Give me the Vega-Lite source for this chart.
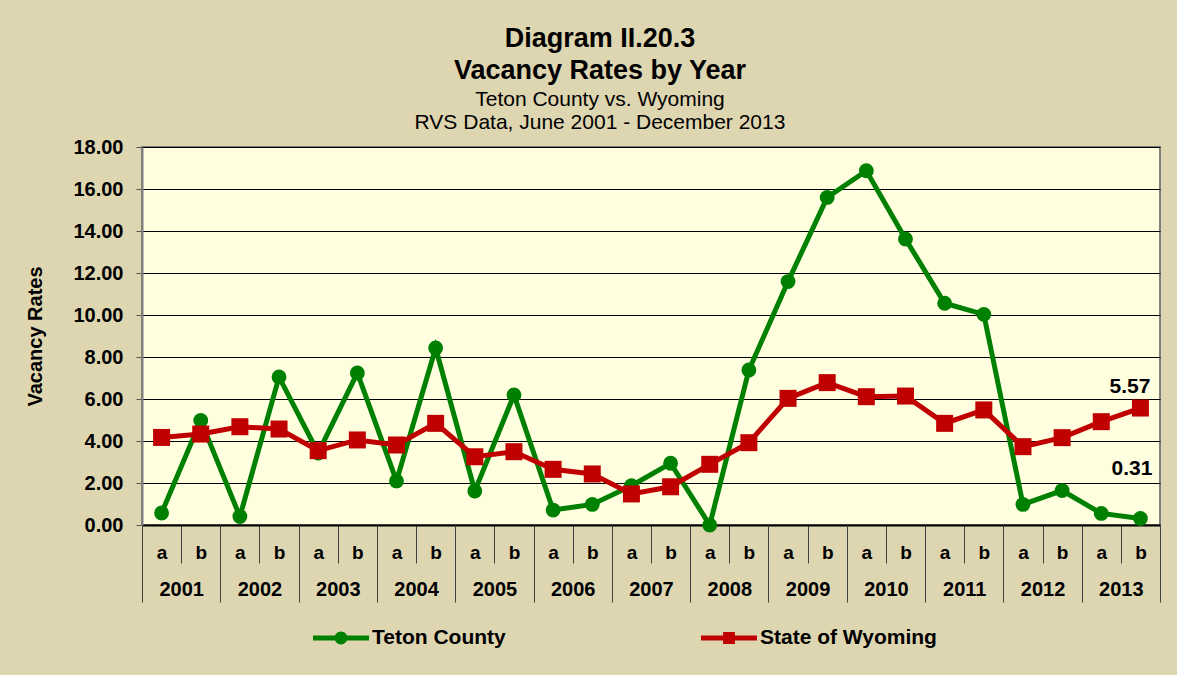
{
  "$schema": "https://vega.github.io/schema/vega-lite/v6.json",
  "width": 1018,
  "height": 378,
  "autosize": "none",
  "padding": {"left": 142, "top": 147, "right": 17, "bottom": 150},
  "background": "#DED6B0",
  "config": {
    "view": {"fill": "#FFFFE0", "stroke": "#808080", "strokeWidth": 2},
    "font": "Liberation Sans"
  },
  "title": {
    "text": ["Diagram II.20.3", "Vacancy Rates by Year"],
    "subtitle": ["Teton County vs. Wyoming", "RVS Data, June 2001 - December 2013"],
    "anchor": "middle",
    "frame": "group",
    "dx": -51,
    "offset": 3,
    "font": "Liberation Sans",
    "fontSize": 27,
    "fontWeight": "bold",
    "lineHeight": 32,
    "color": "black",
    "subtitleFont": "Liberation Sans",
    "subtitleFontSize": 21,
    "subtitleLineHeight": 23,
    "subtitleColor": "black",
    "subtitlePadding": 4
  },
  "datasets": {
    "rates": [
      {"slot": "2001a", "series": "Teton County", "value": 0.57},
      {"slot": "2001b", "series": "Teton County", "value": 4.98},
      {"slot": "2002a", "series": "Teton County", "value": 0.40},
      {"slot": "2002b", "series": "Teton County", "value": 7.05},
      {"slot": "2003a", "series": "Teton County", "value": 3.43},
      {"slot": "2003b", "series": "Teton County", "value": 7.24},
      {"slot": "2004a", "series": "Teton County", "value": 2.10},
      {"slot": "2004b", "series": "Teton County", "value": 8.43},
      {"slot": "2005a", "series": "Teton County", "value": 1.62},
      {"slot": "2005b", "series": "Teton County", "value": 6.19},
      {"slot": "2006a", "series": "Teton County", "value": 0.71},
      {"slot": "2006b", "series": "Teton County", "value": 0.98},
      {"slot": "2007a", "series": "Teton County", "value": 1.87},
      {"slot": "2007b", "series": "Teton County", "value": 2.94},
      {"slot": "2008a", "series": "Teton County", "value": 0.00},
      {"slot": "2008b", "series": "Teton County", "value": 7.38},
      {"slot": "2009a", "series": "Teton County", "value": 11.59},
      {"slot": "2009b", "series": "Teton County", "value": 15.60},
      {"slot": "2010a", "series": "Teton County", "value": 16.87},
      {"slot": "2010b", "series": "Teton County", "value": 13.62},
      {"slot": "2011a", "series": "Teton County", "value": 10.56},
      {"slot": "2011b", "series": "Teton County", "value": 10.03},
      {"slot": "2012a", "series": "Teton County", "value": 0.98},
      {"slot": "2012b", "series": "Teton County", "value": 1.64},
      {"slot": "2013a", "series": "Teton County", "value": 0.55},
      {"slot": "2013b", "series": "Teton County", "value": 0.31},
      {"slot": "2001a", "series": "State of Wyoming", "value": 4.17},
      {"slot": "2001b", "series": "State of Wyoming", "value": 4.33},
      {"slot": "2002a", "series": "State of Wyoming", "value": 4.68},
      {"slot": "2002b", "series": "State of Wyoming", "value": 4.57},
      {"slot": "2003a", "series": "State of Wyoming", "value": 3.54},
      {"slot": "2003b", "series": "State of Wyoming", "value": 4.05},
      {"slot": "2004a", "series": "State of Wyoming", "value": 3.81},
      {"slot": "2004b", "series": "State of Wyoming", "value": 4.84},
      {"slot": "2005a", "series": "State of Wyoming", "value": 3.25},
      {"slot": "2005b", "series": "State of Wyoming", "value": 3.49},
      {"slot": "2006a", "series": "State of Wyoming", "value": 2.65},
      {"slot": "2006b", "series": "State of Wyoming", "value": 2.43},
      {"slot": "2007a", "series": "State of Wyoming", "value": 1.48},
      {"slot": "2007b", "series": "State of Wyoming", "value": 1.82},
      {"slot": "2008a", "series": "State of Wyoming", "value": 2.89},
      {"slot": "2008b", "series": "State of Wyoming", "value": 3.92},
      {"slot": "2009a", "series": "State of Wyoming", "value": 6.03},
      {"slot": "2009b", "series": "State of Wyoming", "value": 6.78},
      {"slot": "2010a", "series": "State of Wyoming", "value": 6.11},
      {"slot": "2010b", "series": "State of Wyoming", "value": 6.14},
      {"slot": "2011a", "series": "State of Wyoming", "value": 4.84},
      {"slot": "2011b", "series": "State of Wyoming", "value": 5.48},
      {"slot": "2012a", "series": "State of Wyoming", "value": 3.73},
      {"slot": "2012b", "series": "State of Wyoming", "value": 4.16},
      {"slot": "2013a", "series": "State of Wyoming", "value": 4.92},
      {"slot": "2013b", "series": "State of Wyoming", "value": 5.57}
    ],
    "years": [
      {"year": "2001"}, {"year": "2002"}, {"year": "2003"}, {"year": "2004"},
      {"year": "2005"}, {"year": "2006"}, {"year": "2007"}, {"year": "2008"},
      {"year": "2009"}, {"year": "2010"}, {"year": "2011"}, {"year": "2012"},
      {"year": "2013"}
    ]
  },
  "resolve": {"scale": {"x": "independent"}, "axis": {"x": "independent"}},
  "layer": [
    {
      "data": {"name": "rates"},
      "encoding": {
        "x": {
          "field": "slot", "type": "nominal", "sort": null,
          "scale": {"type": "band", "paddingInner": 0, "paddingOuter": 0},
          "axis": {
            "orient": "bottom", "title": null, "labelAngle": 0,
            "labelExpr": "datum.value ? substring(datum.value, 4) : ''",
            "labelFont": "Liberation Sans", "labelFontSize": 19, "labelFontWeight": "bold", "labelColor": "black",
            "labelBaseline": "alphabetic", "labelPadding": -5,
            "tickBand": "extent", "tickSize": 38, "tickColor": "#404040", "tickWidth": 1,
            "domainColor": "black", "domainWidth": 2, "grid": false
          }
        },
        "y": {
          "field": "value", "type": "quantitative",
          "scale": {"domain": [0, 18], "nice": false},
          "axis": {
            "values": [0, 2, 4, 6, 8, 10, 12, 14, 16, 18], "format": ".2f",
            "title": "Vacancy Rates", "titleFont": "Liberation Sans", "titleFontSize": 20, "titleFontWeight": "bold", "titleColor": "black", "titlePadding": 27,
            "labelFont": "Liberation Sans", "labelFontSize": 20, "labelFontWeight": "bold", "labelColor": "black", "labelPadding": 13,
            "tickSize": 6, "tickColor": "#555555", "domainColor": "#808080", "domainWidth": 2,
            "grid": true, "gridColor": "black", "gridWidth": 1
          }
        },
        "color": {
          "field": "series", "type": "nominal",
          "scale": {"domain": ["Teton County", "State of Wyoming"], "range": ["#008000", "#C00000"]},
          "legend": {
            "orient": "none", "legendX": 171, "legendY": 463, "direction": "horizontal", "title": null,
            "labelFont": "Liberation Sans", "labelFontSize": 21, "labelFontWeight": "bold", "labelColor": "black", "labelLimit": 400,
            "symbolSize": 3136, "labelOffset": 3, "columnPadding": 195,
            "encode": {
              "symbols": {
                "update": {
                  "shape": {"signal": "datum.value === 'Teton County' ? 'M-1,-0.09L1,-0.09L1,0.09L-1,0.09Z M-0.23,0A0.23,0.23 0 1,1 0.23,0A0.23,0.23 0 1,1 -0.23,0Z' : 'M-1,-0.09L1,-0.09L1,0.09L-1,0.09Z M-0.21,-0.21L0.21,-0.21L0.21,0.21L-0.21,0.21Z'"},
                  "fill": {"signal": "datum.value === 'Teton County' ? '#008000' : '#C00000'"},
                  "fillOpacity": {"value": 1},
                  "strokeWidth": {"value": 0},
                  "opacity": {"value": 1}
                }
              }
            }
          }
        }
      },
      "layer": [
        {"transform": [{"filter": "datum.series === 'Teton County'"}], "mark": {"type": "line", "strokeWidth": 5}},
        {"transform": [{"filter": "datum.series === 'Teton County'"}], "mark": {"type": "point", "shape": "circle", "filled": true, "size": 220, "opacity": 1}},
        {"transform": [{"filter": "datum.series === 'State of Wyoming'"}], "mark": {"type": "line", "strokeWidth": 5}},
        {"transform": [{"filter": "datum.series === 'State of Wyoming'"}], "mark": {"type": "point", "shape": "square", "filled": true, "size": 289, "opacity": 1}},
        {
          "transform": [{"filter": "datum.slot === '2013b' && datum.series === 'State of Wyoming'"}],
          "mark": {"type": "text", "align": "right", "baseline": "alphabetic", "dx": 10, "dy": -15, "font": "Liberation Sans", "fontSize": 21, "fontWeight": "bold"},
          "encoding": {"text": {"field": "value", "format": ".2f"}, "color": {"value": "black"}}
        },
        {
          "transform": [{"filter": "datum.slot === '2013b' && datum.series === 'Teton County'"}],
          "mark": {"type": "text", "align": "right", "baseline": "alphabetic", "dx": 12, "dy": -43, "font": "Liberation Sans", "fontSize": 21, "fontWeight": "bold"},
          "encoding": {"text": {"field": "value", "format": ".2f"}, "color": {"value": "black"}}
        }
      ]
    },
    {
      "data": {"name": "years"},
      "mark": {"type": "point", "opacity": 0},
      "encoding": {
        "x": {
          "field": "year", "type": "nominal", "sort": null,
          "scale": {"type": "band", "paddingInner": 0, "paddingOuter": 0},
          "axis": {
            "orient": "bottom", "title": null, "labelAngle": 0, "domain": false, "grid": false,
            "labelFont": "Liberation Sans", "labelFontSize": 20, "labelFontWeight": "bold", "labelColor": "black",
            "labelBaseline": "alphabetic", "labelPadding": -7,
            "tickBand": "extent", "tickSize": 77, "tickColor": "#404040", "tickWidth": 1
          }
        }
      }
    }
  ]
}
